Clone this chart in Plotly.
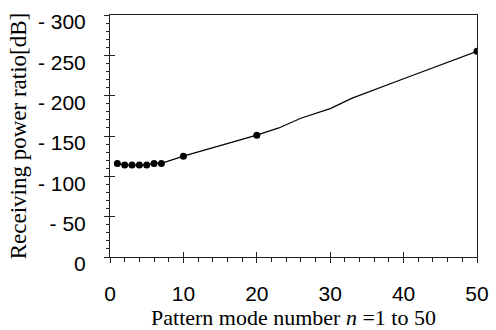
import plotly.graph_objects as go

# Line data (pattern mode number n vs receiving power ratio magnitude, dB)
n_line = [1, 2, 3, 4, 5, 6, 7, 10, 15, 20, 23, 26, 30, 33, 40, 50]
v_line = [116, 114, 114, 114, 114, 116, 116, 125, 138, 151, 160, 172, 184, 197, 221, 255]

# Marked points
n_mark = [1, 2, 3, 4, 5, 6, 7, 10, 20, 50]
v_mark = [116, 114, 114, 114, 114, 116, 116, 125, 151, 255]

y_tickvals = [0, 50, 100, 150, 200, 250, 300]
y_ticktext = ["0", "- 50", "- 100", "- 150", "- 200", "- 250", "- 300"]
x_tickvals = [0, 10, 20, 30, 40, 50]

AX = "#222222"
SANS = "Liberation Sans, Arial, sans-serif"
SERIF = "Liberation Serif, Times New Roman, serif"

fig = go.Figure()
fig.add_trace(go.Scatter(x=n_line, y=v_line, mode="lines",
                         line=dict(color="black", width=1.2),
                         showlegend=False, hoverinfo="skip"))
fig.add_trace(go.Scatter(x=n_mark, y=v_mark, mode="markers",
                         marker=dict(color="black", size=7),
                         showlegend=False))
# invisible trace to anchor overlay axes (inside major ticks)
fig.add_trace(go.Scatter(x=[None], y=[None], xaxis="x2", yaxis="y2",
                         showlegend=False, hoverinfo="skip"))

fig.update_layout(
    width=496, height=330,
    margin=dict(l=110, r=19, t=15, b=73),
    paper_bgcolor="white", plot_bgcolor="white",
    xaxis=dict(
        range=[0, 50], tickvals=x_tickvals, ticks="outside", ticklen=5,
        tickcolor=AX, tickwidth=1, automargin=False,
        minor=dict(dtick=2, ticks="outside", ticklen=4, tickcolor=AX, showgrid=False),
        showline=True, linecolor=AX, linewidth=1, mirror=True,
        showgrid=False, zeroline=False,
        tickfont=dict(family=SANS, size=21, color="black"),
        ticklabelstandoff=13,
        title=dict(text="Pattern mode number <i>n</i> =1 to 50",
                   font=dict(family=SERIF, size=22, color="black"), standoff=4),
    ),
    yaxis=dict(
        range=[0, 300], tickvals=y_tickvals, ticktext=y_ticktext,
        ticks="outside", ticklen=5, tickcolor=AX, tickwidth=1, automargin=False,
        minor=dict(dtick=10, ticks="outside", ticklen=3.5, tickcolor=AX, showgrid=False),
        showline=True, linecolor=AX, linewidth=1, mirror=True,
        showgrid=False, zeroline=False,
        tickfont=dict(family=SANS, size=21, color="black"),
        ticklabelstandoff=14, ticklabelshift=7,
        title=dict(text="Receiving power ratio[dB]",
                   font=dict(family=SERIF, size=23, color="black"), standoff=4),
    ),
    xaxis2=dict(range=[0, 50], overlaying="x", anchor="y", side="bottom",
                tickvals=x_tickvals, ticks="inside", ticklen=5, tickcolor=AX,
                showticklabels=False, showline=False, showgrid=False, zeroline=False),
    yaxis2=dict(range=[0, 300], overlaying="y", anchor="x", side="left",
                tickvals=y_tickvals, ticks="inside", ticklen=5, tickcolor=AX,
                showticklabels=False, showline=False, showgrid=False, zeroline=False),
)

fig.write_html("out.html")
